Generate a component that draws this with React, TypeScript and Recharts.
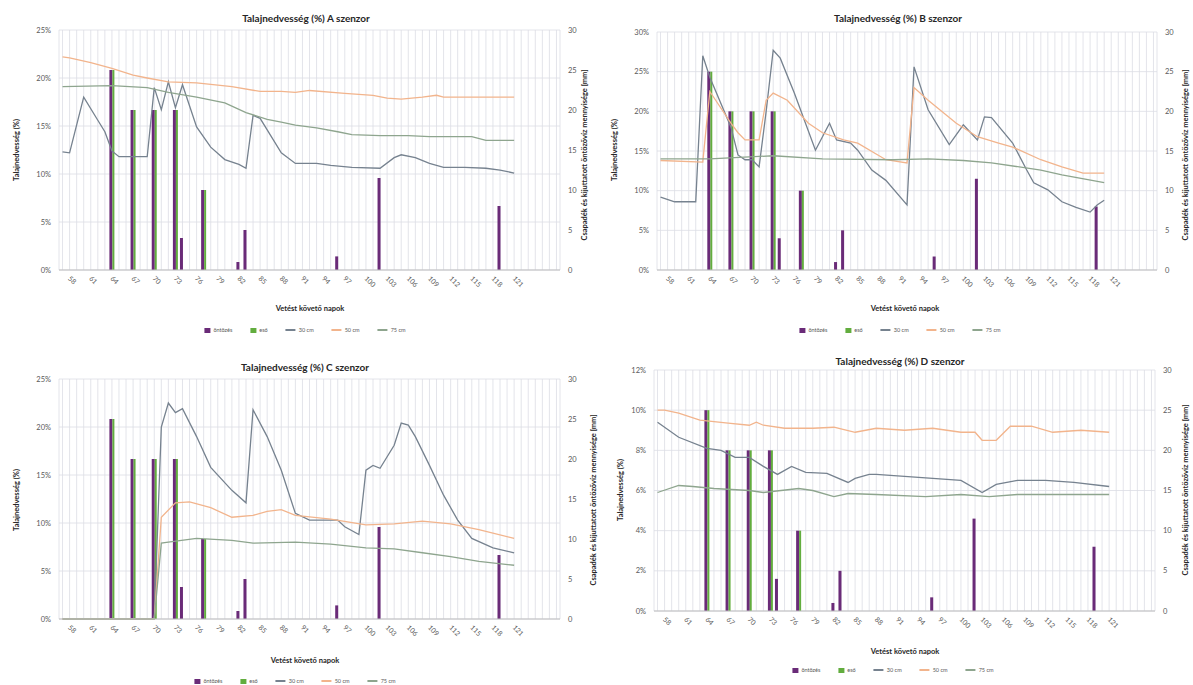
import { Bar, CartesianGrid, ComposedChart, Line, XAxis, YAxis } from 'recharts'

const FONT = 'Lato, "Open Sans", sans-serif'

// napok a vetés után (kategóriák)
const days = [
  57, 58, 59, 60, 61, 62, 63, 64, 65, 66, 67, 68, 69, 70, 71, 72, 73, 74, 75, 76, 77, 78, 79, 80,
  81, 82, 83, 84, 85, 86, 87, 88, 89, 90, 91, 92, 93, 94, 95, 96, 97, 98, 99, 100, 101, 102, 103,
  104, 105, 106, 107, 108, 109, 110, 111, 112, 113, 114, 115, 116, 117, 118, 119, 120, 121, 122,
  123, 124, 125, 126, 127,
]
const labelDays = [58, 61, 64, 67, 70, 73, 76, 79, 82, 85, 88, 91, 94, 97, 100, 103, 106, 109, 112, 115, 118, 121]

// öntözés / eső [mm]
const irrigationDays = [64, 67, 70, 73, 74, 77, 82, 83, 96, 102, 119]
const irrigationMm = [25, 20, 20, 20, 4, 10, 1, 5, 1.7, 11.5, 8]
const rainDays = [64, 67, 70, 73, 77]
const rainMm = [25, 20, 20, 20, 10]

type Pt = [number, number]

// A szenzor
const a30: Pt[] = [[57, 12.3], [58, 12.2], [60, 18.0], [62, 15.6], [63, 14.4], [64, 12.4], [65, 11.8], [69, 11.8], [70, 19.0], [71, 16.7], [72, 19.6], [73, 16.9], [74, 19.3], [76, 14.9], [78, 12.8], [80, 11.5], [82, 11.0], [83, 10.6], [84, 16.1], [85, 15.8], [88, 12.2], [90, 11.1], [93, 11.1], [95, 10.9], [98, 10.7], [102, 10.6], [104, 11.7], [105, 12.0], [107, 11.7], [109, 11.1], [111, 10.7], [114, 10.7], [117, 10.6], [119, 10.4], [121, 10.1]]
const a50: Pt[] = [[57, 22.2], [58, 22.1], [61, 21.6], [64, 21.0], [67, 20.3], [69, 20.0], [72, 19.6], [76, 19.5], [81, 19.1], [85, 18.6], [88, 18.6], [90, 18.5], [92, 18.7], [97, 18.4], [101, 18.2], [103, 17.9], [105, 17.8], [108, 18.0], [110, 18.2], [111, 18.0], [114, 18.0], [118, 18.0], [121, 18.0]]
const a75: Pt[] = [[57, 19.1], [64, 19.2], [69, 19.0], [72, 18.5], [76, 18.0], [80, 17.4], [83, 16.4], [86, 15.7], [88, 15.4], [90, 15.1], [93, 14.8], [96, 14.4], [98, 14.1], [102, 14.0], [106, 14.0], [109, 13.9], [115, 13.9], [117, 13.5], [121, 13.5]]

// B szenzor
const b30: Pt[] = [[57, 9.2], [59, 8.6], [62, 8.6], [63, 27.0], [64, 24.3], [67, 18.0], [68, 14.5], [69, 13.9], [70, 13.9], [71, 13.0], [72, 20.0], [73, 27.7], [74, 26.7], [76, 22.3], [79, 15.1], [81, 18.5], [82, 16.4], [84, 16.0], [85, 15.1], [87, 12.6], [89, 11.3], [92, 8.2], [93, 25.6], [95, 20.2], [98, 15.8], [100, 18.3], [102, 16.4], [103, 19.3], [104, 19.2], [107, 16.0], [109, 12.6], [110, 11.0], [112, 10.1], [114, 8.6], [116, 7.9], [118, 7.3], [119, 8.2], [120, 8.8]]
const b50: Pt[] = [[57, 13.8], [63, 13.6], [64, 22.5], [67, 18.5], [68, 17.3], [69, 16.4], [71, 16.4], [72, 21.4], [73, 22.3], [75, 21.4], [78, 18.5], [80, 17.3], [83, 16.4], [85, 16.0], [89, 13.9], [92, 13.5], [93, 23.0], [95, 21.4], [99, 18.5], [102, 16.8], [105, 16.0], [107, 15.5], [111, 13.9], [114, 13.0], [117, 12.2], [120, 12.2]]
const b75: Pt[] = [[57, 14.0], [64, 14.0], [73, 14.4], [80, 14.0], [90, 13.9], [95, 14.0], [100, 13.8], [104, 13.5], [111, 12.6], [114, 12.0], [120, 11.0]]

// C szenzor
const c30: Pt[] = [[57, 0], [70, 0], [71, 20.0], [72, 22.5], [73, 21.5], [74, 21.9], [76, 19.0], [78, 15.8], [81, 13.4], [83, 12.1], [84, 21.8], [86, 19.0], [88, 15.5], [90, 11.0], [92, 10.3], [96, 10.3], [97, 9.6], [99, 8.8], [100, 15.5], [101, 16.0], [102, 15.7], [104, 18.1], [105, 20.4], [106, 20.2], [107, 19.0], [109, 16.0], [111, 12.9], [113, 10.3], [115, 8.4], [118, 7.4], [121, 6.9]]
const c50: Pt[] = [[57, 0], [70, 0], [71, 10.6], [73, 12.1], [75, 12.2], [78, 11.6], [81, 10.6], [84, 10.8], [86, 11.2], [88, 11.4], [90, 10.8], [95, 10.4], [100, 9.8], [104, 9.9], [108, 10.2], [112, 9.9], [116, 9.3], [121, 8.4]]
const c75: Pt[] = [[57, 0], [70, 0], [71, 7.9], [72, 8.0], [76, 8.4], [81, 8.2], [84, 7.9], [90, 8.0], [95, 7.8], [100, 7.4], [104, 7.3], [108, 6.9], [112, 6.5], [116, 6.0], [121, 5.6]]

// D szenzor
const d30: Pt[] = [[57, 9.4], [60, 8.65], [64, 8.1], [66, 8.0], [68, 7.65], [70, 7.65], [72, 7.2], [74, 6.8], [76, 7.2], [78, 6.9], [81, 6.85], [84, 6.4], [85, 6.6], [87, 6.8], [88, 6.8], [92, 6.7], [96, 6.6], [100, 6.5], [103, 5.9], [105, 6.3], [108, 6.5], [112, 6.5], [116, 6.4], [121, 6.2]]
const d50: Pt[] = [[57, 10.0], [58, 10.0], [60, 9.85], [63, 9.5], [67, 9.35], [70, 9.25], [71, 9.4], [72, 9.25], [75, 9.1], [79, 9.1], [82, 9.15], [85, 8.9], [88, 9.1], [92, 9.0], [96, 9.1], [100, 8.9], [102, 8.9], [103, 8.5], [105, 8.5], [107, 9.2], [110, 9.2], [113, 8.9], [117, 9.0], [121, 8.9]]
const d75: Pt[] = [[57, 5.9], [60, 6.25], [62, 6.2], [65, 6.1], [70, 6.0], [72, 5.9], [77, 6.1], [79, 6.0], [82, 5.7], [84, 5.85], [88, 5.8], [95, 5.7], [100, 5.8], [104, 5.7], [108, 5.8], [112, 5.8], [121, 5.8]]

const COLORS = {
  irr: '#6a2b78',
  rain: '#62ad3e',
  s30: '#76828f',
  s50: '#f2b48c',
  s75: '#8ea58e',
  grid: '#dcdde5',
  text: '#595959',
  title: '#262626',
}

const seriesNames = ['öntözés', 'eső', '30 cm', '50 cm', '75 cm']

const lookup = (pts: Pt[], d: number) => {
  const hit = pts.find((p) => p[0] === d)
  return hit ? hit[1] : null
}

const buildRows = (s30: Pt[], s50: Pt[], s75: Pt[]) =>
  days.map((day) => {
    const ii = irrigationDays.indexOf(day)
    const ri = rainDays.indexOf(day)
    return {
      day,
      irr: ii >= 0 ? irrigationMm[ii] : null,
      rain: ri >= 0 ? rainMm[ri] : null,
      s30: lookup(s30, day),
      s50: lookup(s50, day),
      s75: lookup(s75, day),
    }
  })

const XTick = ({ x, y, payload }: any) => {
  if (!labelDays.includes(payload.value)) return <g />
  const ax = x - 2
  const ay = y + 1
  return (
    <text x={ax} y={ay} transform={`rotate(45, ${ax}, ${ay})`} fontSize={7} fill={COLORS.text} fontFamily={FONT}>
      {payload.value}
    </text>
  )
}

interface PanelProps {
  left: number
  top: number
  width: number
  height: number
  marginTop: number
  leftW: number
  rightW: number
  xH: number
  yMax: number
  yTicks: number[]
  rows: ReturnType<typeof buildRows>
}

const Panel = ({ left, top, width, height, marginTop, leftW, rightW, xH, yMax, yTicks, rows }: PanelProps) => (
  <div style={{ position: 'absolute', left, top }}>
    <ComposedChart
      width={width}
      height={height}
      data={rows}
      margin={{ top: marginTop, right: 0, bottom: 0, left: 0 }}
      barGap={0}
      barCategoryGap={0}
    >
      <CartesianGrid stroke={COLORS.grid} strokeWidth={0.8} />
      <XAxis
        dataKey="day"
        interval={0}
        height={xH}
        tick={<XTick />}
        tickLine={false}
        axisLine={{ stroke: '#bfbfbf' }}
      />
      <YAxis
        width={leftW}
        domain={[0, yMax]}
        ticks={yTicks}
        tickFormatter={(v) => `${v}%`}
        tick={{ fontSize: 7.5, fill: COLORS.text, fontFamily: FONT }}
        tickLine={false}
        axisLine={false}
      />
      <YAxis
        yAxisId="mm"
        orientation="right"
        width={rightW}
        domain={[0, 30]}
        ticks={[0, 5, 10, 15, 20, 25, 30]}
        tick={{ fontSize: 7.5, fill: COLORS.text, fontFamily: FONT }}
        tickLine={false}
        axisLine={false}
      />
      <Bar yAxisId="mm" dataKey="irr" name={seriesNames[0]} fill={COLORS.irr} barSize={3} isAnimationActive={false} />
      <Bar yAxisId="mm" dataKey="rain" name={seriesNames[1]} fill={COLORS.rain} barSize={2} isAnimationActive={false} />
      <Line dataKey="s30" name={seriesNames[2]} stroke={COLORS.s30} strokeWidth={1.3} dot={false} connectNulls isAnimationActive={false} />
      <Line dataKey="s50" name={seriesNames[3]} stroke={COLORS.s50} strokeWidth={1.3} dot={false} connectNulls isAnimationActive={false} />
      <Line dataKey="s75" name={seriesNames[4]} stroke={COLORS.s75} strokeWidth={1.3} dot={false} connectNulls isAnimationActive={false} />
    </ComposedChart>
  </div>
)

const Title = ({ x, y, text }: { x: number; y: number; text: string }) => (
  <div
    style={{
      position: 'absolute',
      left: x,
      top: y,
      transform: 'translate(-50%, -50%)',
      fontFamily: FONT,
      fontWeight: 700,
      fontSize: 10,
      color: COLORS.title,
      whiteSpace: 'nowrap',
    }}
  >
    {text}
  </div>
)

const AxisTitle = ({ x, y, text, vertical }: { x: number; y: number; text: string; vertical?: boolean }) => (
  <div
    style={{
      position: 'absolute',
      left: x,
      top: y,
      transform: `translate(-50%, -50%)${vertical ? ' rotate(-90deg)' : ''}`,
      fontFamily: FONT,
      fontWeight: 700,
      fontSize: 7.5,
      color: COLORS.title,
      whiteSpace: 'nowrap',
    }}
  >
    {text}
  </div>
)

const LegendRow = ({ x, y }: { x: number; y: number }) => {
  const swatches = [COLORS.irr, COLORS.rain, COLORS.s30, COLORS.s50, COLORS.s75]
  return (
    <div
      style={{
        position: 'absolute',
        left: x,
        top: y,
        transform: 'translate(-50%, -50%)',
        display: 'flex',
        gap: 18,
        alignItems: 'center',
        fontFamily: FONT,
        fontSize: 5.5,
        color: COLORS.text,
        whiteSpace: 'nowrap',
      }}
    >
      {seriesNames.map((n, i) => (
        <div key={n} style={{ display: 'flex', alignItems: 'center', gap: 3 }}>
          {i < 2 ? (
            <span style={{ width: 6, height: 5, background: swatches[i], display: 'inline-block' }} />
          ) : (
            <span style={{ width: 10, height: 1.3, background: swatches[i], display: 'inline-block' }} />
          )}
          <span>{n}</span>
        </div>
      ))}
    </div>
  )
}

const rightTitle = 'Csapadék és kijuttatott öntözővíz mennyisége [mm]'
const leftTitle = 'Talajnedvesség (%)'
const xTitle = 'Vetést követő napok'

export default function App() {
  return (
    <div style={{ position: 'absolute', left: 0, top: 0, width: 1193, height: 685, background: '#fff', overflow: 'hidden' }}>
      <Panel left={0} top={0} width={590} height={345} marginTop={30} leftW={59} rightW={30} xH={75} yMax={25} yTicks={[0, 5, 10, 15, 20, 25]} rows={buildRows(a30, a50, a75)} />
      <Panel left={590} top={0} width={603} height={345} marginTop={32} leftW={67} rightW={36} xH={75} yMax={30} yTicks={[0, 5, 10, 15, 20, 25, 30]} rows={buildRows(b30, b50, b75)} />
      <Panel left={0} top={355} width={600} height={330} marginTop={24} leftW={59} rightW={40} xH={66} yMax={25} yTicks={[0, 5, 10, 15, 20, 25]} rows={buildRows(c30, c50, c75)} />
      <Panel left={600} top={355} width={593} height={330} marginTop={15} leftW={54} rightW={38} xH={74} yMax={12} yTicks={[0, 2, 4, 6, 8, 10, 12]} rows={buildRows(d30, d50, d75)} />

      <Title x={306} y={18} text="Talajnedvesség (%) A szenzor" />
      <Title x={898} y={18} text="Talajnedvesség (%) B szenzor" />
      <Title x={305} y={367} text="Talajnedvesség (%) C szenzor" />
      <Title x={900} y={361} text="Talajnedvesség (%) D szenzor" />

      <AxisTitle x={16} y={150} text={leftTitle} vertical />
      <AxisTitle x={584} y={155} text={rightTitle} vertical />
      <AxisTitle x={614} y={150} text={leftTitle} vertical />
      <AxisTitle x={1185} y={155} text={rightTitle} vertical />
      <AxisTitle x={16} y={500} text={leftTitle} vertical />
      <AxisTitle x={593} y={500} text={rightTitle} vertical />
      <AxisTitle x={620} y={490} text={leftTitle} vertical />
      <AxisTitle x={1185} y={490} text={rightTitle} vertical />

      <AxisTitle x={310} y={308} text={xTitle} />
      <AxisTitle x={905} y={308} text={xTitle} />
      <AxisTitle x={305} y={660} text={xTitle} />
      <AxisTitle x={905} y={651} text={xTitle} />

      <LegendRow x={305} y={330} />
      <LegendRow x={900} y={330} />
      <LegendRow x={295} y={681} />
      <LegendRow x={893} y={670} />
    </div>
  )
}
